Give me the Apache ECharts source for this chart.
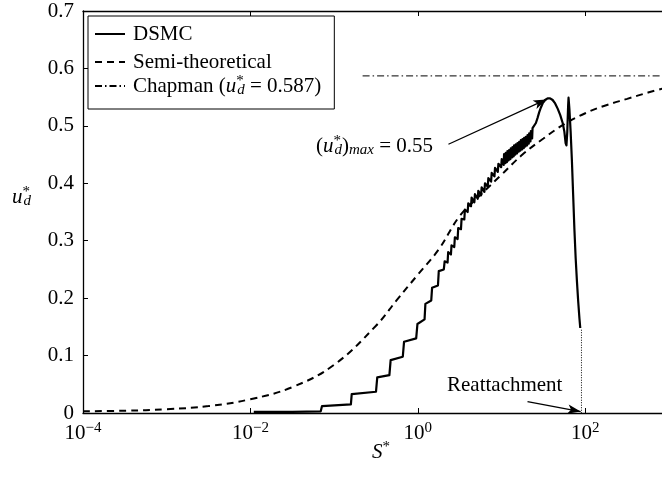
<!DOCTYPE html>
<html>
<head>
<meta charset="utf-8">
<script src="https://cdn.jsdelivr.net/npm/echarts@6/dist/echarts.min.js"></script>
<style>
  html, body { margin: 0; padding: 0; background: #fff; }
  #chart { width: 662px; height: 479px; }
</style>
</head>
<body>
<div id="chart"></div>
<script>
const FONT = 'Liberation Serif';

// Semi-theoretical curve: log10(S*) and u_d*
const semiLogS = [-4, -3.5, -3, -2.5, -2, -1.5, -1, -0.5, -0.25, 0, 0.25, 0.5, 0.75, 1, 1.25, 1.5, 1.75, 2, 2.25, 2.5, 2.75, 3];
const semiU    = [0.003, 0.004, 0.0065, 0.012, 0.024, 0.045, 0.084, 0.152, 0.197, 0.241, 0.285, 0.343, 0.38, 0.415, 0.45, 0.478, 0.503, 0.522, 0.536, 0.547, 0.558, 0.568];

// DSMC result: log10(S*) and u_d*
const dsmcLogS = [
  -1.96, -1.5, -1.16, -1.145, -0.80, -0.79, -0.50, -0.485, -0.34, -0.325,
  -0.18, -0.165, -0.02, -0.005, 0.08, 0.09, 0.16, 0.17, 0.24, 0.25, 0.31, 0.32,
  0.355, 0.362, 0.395, 0.402, 0.435, 0.442, 0.475, 0.482, 0.515, 0.522,
  0.555, 0.562, 0.595, 0.602, 0.635, 0.642, 0.675, 0.682, 0.715, 0.722,
  0.755, 0.762, 0.795, 0.802, 0.835, 0.842, 0.875, 0.882, 0.915, 0.922,
  0.955, 0.962, 0.995, 1.002,
  1.025, 1.030, 1.045, 1.050, 1.065, 1.070, 1.085, 1.090, 1.105, 1.110,
  1.125, 1.130, 1.145, 1.150, 1.165, 1.170, 1.185, 1.190, 1.205, 1.210,
  1.225, 1.230, 1.245, 1.250, 1.265, 1.270, 1.285, 1.290, 1.305, 1.310,
  1.325, 1.330, 1.345, 1.350, 1.365, 1.370,
  1.39, 1.41, 1.43, 1.45, 1.47, 1.49, 1.52, 1.55, 1.58, 1.61, 1.64, 1.67,
  1.70, 1.73, 1.75, 1.765, 1.775, 1.785, 1.795, 1.80, 1.81, 1.825, 1.84,
  1.855, 1.87, 1.885, 1.90, 1.915, 1.93, 1.94
];
const dsmcU = [
  0.002, 0.002, 0.003, 0.012, 0.015, 0.033, 0.037, 0.062, 0.066, 0.092,
  0.098, 0.124, 0.130, 0.155, 0.163, 0.190, 0.196, 0.218, 0.222, 0.247, 0.250, 0.264,
  0.262, 0.280, 0.276, 0.292, 0.289, 0.306, 0.303, 0.322, 0.320, 0.338,
  0.337, 0.354, 0.350, 0.365, 0.360, 0.375, 0.367, 0.381, 0.373, 0.387,
  0.379, 0.393, 0.385, 0.400, 0.394, 0.409, 0.403, 0.418, 0.412, 0.427,
  0.420, 0.434, 0.428, 0.442,
  0.432, 0.451, 0.435, 0.453, 0.437, 0.456, 0.440, 0.458, 0.442, 0.461,
  0.445, 0.463, 0.447, 0.466, 0.450, 0.468, 0.452, 0.470, 0.455, 0.472,
  0.457, 0.475, 0.459, 0.477, 0.461, 0.479, 0.464, 0.481, 0.466, 0.484,
  0.469, 0.487, 0.473, 0.491, 0.478, 0.496,
  0.496, 0.505, 0.514, 0.524, 0.532, 0.539, 0.545, 0.548, 0.548, 0.545, 0.539, 0.530,
  0.519, 0.505, 0.490, 0.470, 0.466, 0.490, 0.535, 0.549, 0.530, 0.490, 0.440,
  0.380, 0.320, 0.270, 0.230, 0.195, 0.165, 0.148
];

// Chapman limit
const chapmanU = 0.587;
const chapmanLogS = [-0.66, 3];

// Reattachment point
const reattachS = 90;
const reattachU = [0.145, 0];

// Annotation arrows: [S*, u_d*] start -> end
const maxArrow = [[2.32, 0.468], [34.3, 0.546]];
const reattachArrow = [[20.4, 0.0197], [88, 0.0025]];

// Axis ticks
const xTickValues = [1e-4, 1e-2, 1, 100];
const xRange = [1e-4, 1e3];
const yRange = [0, 0.7];
const yStep = 0.1;

const toPairs = (logs, us) => logs.map((l, i) => [Math.pow(10, l), us[i]]);

const supRich = {
  base: { fontFamily: FONT, fontSize: 21, lineHeight: 24, color: '#000' },
  sup: { fontFamily: FONT, fontSize: 15, lineHeight: 13, verticalAlign: 'top', color: '#000' }
};

const mathRich = {
  n:   { fontFamily: FONT, fontSize: 21, lineHeight: 24, color: '#000' },
  i:   { fontFamily: FONT, fontSize: 21, lineHeight: 24, fontStyle: 'italic', color: '#000' },
  st:  { fontFamily: FONT, fontSize: 15, lineHeight: 15, verticalAlign: 'top', width: 1, color: '#000' },
  sub: { fontFamily: FONT, fontSize: 15, lineHeight: 15, verticalAlign: 'bottom', fontStyle: 'italic', color: '#000' }
};

const chart = echarts.init(document.getElementById('chart'), null, { renderer: 'canvas' });

const baseX = {
  type: 'log',
  logBase: 10,
  min: xRange[0],
  max: xRange[1],
  axisLine: { lineStyle: { color: '#000', width: 1.3 } },
  axisTick: { inside: true, length: 5, customValues: xTickValues, lineStyle: { color: '#000', width: 1 } },
  minorTick: { show: false },
  splitLine: { show: false }
};

chart.setOption({
  animation: false,
  backgroundColor: '#fff',
  textStyle: { fontFamily: FONT },
  grid: { left: 83, top: 11, width: 586, height: 402, containLabel: false, outerBoundsMode: 'none' },
  legend: {
    data: [
      { name: 'DSMC', textStyle: { lineHeight: 32 } },
      { name: 'Semi-theoretical', textStyle: { lineHeight: 24 } },
      { name: 'Chapman' }
    ],
    orient: 'vertical',
    left: 88,
    top: 16,
    padding: [2, 13, 11, 6],
    itemGap: 0,
    itemWidth: 30,
    itemHeight: 14,
    borderColor: '#000',
    borderWidth: 1,
    backgroundColor: '#fff',
    selectedMode: false,
    itemStyle: { color: 'rgba(0,0,0,0)', borderWidth: 0, opacity: 0 },
    textStyle: { fontFamily: FONT, fontSize: 21, color: '#000', lineHeight: 26, rich: mathRich, padding: [0, 0, 0, 3] },
    formatter: function (name) {
      if (name === 'Chapman') return '{n|Chapman (}{i|u}{st|*}{sub|d}{n| = 0.587)}';
      return name;
    }
  },
  xAxis: [
    Object.assign({}, baseX, {
      position: 'bottom',
      axisLabel: {
        margin: 8,
        customValues: xTickValues,
        color: '#000',
        fontFamily: FONT,
        formatter: function (v) {
          const e = Math.round(Math.log10(v));
          return '{base|10}{sup|' + String(e).replace('-', '\u2212') + '}';
        },
        rich: supRich
      }
    }),
    Object.assign({}, baseX, {
      position: 'top',
      axisLabel: { show: false }
    })
  ],
  yAxis: {
    type: 'value',
    min: yRange[0],
    max: yRange[1],
    interval: yStep,
    axisLine: { show: true, lineStyle: { color: '#000', width: 1.3 } },
    axisTick: { show: true, inside: true, length: 5, lineStyle: { color: '#000' } },
    splitLine: { show: false },
    axisLabel: { margin: 9, color: '#000', fontFamily: FONT, fontSize: 21 }
  },
  series: [
    {
      name: 'Semi-theoretical',
      type: 'line',
      data: toPairs(semiLogS, semiU),
      smooth: 0.4,
      showSymbol: false,
      symbol: 'none',
      lineStyle: { color: '#000', width: 2, type: [7, 5] },
      itemStyle: { color: '#000' },
      z: 2
    },
    {
      name: 'Chapman',
      type: 'line',
      data: toPairs(chapmanLogS, [chapmanU, chapmanU]),
      showSymbol: false,
      symbol: 'none',
      lineStyle: { color: '#000', width: 1, type: [7, 3, 1.5, 3] },
      itemStyle: { color: '#000' },
      z: 2
    },
    {
      name: 'DSMC',
      type: 'line',
      data: toPairs(dsmcLogS, dsmcU),
      showSymbol: false,
      symbol: 'none',
      lineStyle: { color: '#000', width: 2.2, join: 'round' },
      itemStyle: { color: '#000' },
      z: 4
    },
    {
      name: 'reattachment',
      type: 'line',
      data: [[reattachS, reattachU[0]], [reattachS, reattachU[1]]],
      showSymbol: false,
      symbol: 'none',
      lineStyle: { color: '#000', width: 1, type: [1, 1.5] },
      z: 3,
      markLine: {
        silent: true,
        symbol: ['none', 'arrow'],
        symbolSize: [0, 10],
        label: { show: false },
        lineStyle: { color: '#000', width: 1.3, type: 'solid' },
        data: [
          [{ coord: maxArrow[0], symbol: 'none' }, { coord: maxArrow[1], symbol: 'arrow', symbolSize: [7, 13] }],
          [{ coord: reattachArrow[0], symbol: 'none' }, { coord: reattachArrow[1], symbol: 'arrow', symbolSize: [7, 13] }]
        ]
      }
    }
  ],
  graphic: [
    {
      type: 'text', left: 12, top: 185,
      style: { text: '{i|u}{st|*}{sub|d}', rich: mathRich, fill: '#000' }
    },
    {
      type: 'text', left: 372, top: 440,
      style: { text: '{i|S}{st|*}', rich: mathRich, fill: '#000' }
    },
    {
      type: 'text', left: 316, top: 134,
      style: { text: '{n|(}{i|u}{st|*}{sub|d}{n|)}{sub|max}{n| = 0.55}', rich: mathRich, fill: '#000' }
    },
    {
      type: 'text', left: 447, top: 375,
      style: { text: 'Reattachment', fontFamily: FONT, fontSize: 21, fill: '#000' }
    }
  ]
});
</script>
</body>
</html>
